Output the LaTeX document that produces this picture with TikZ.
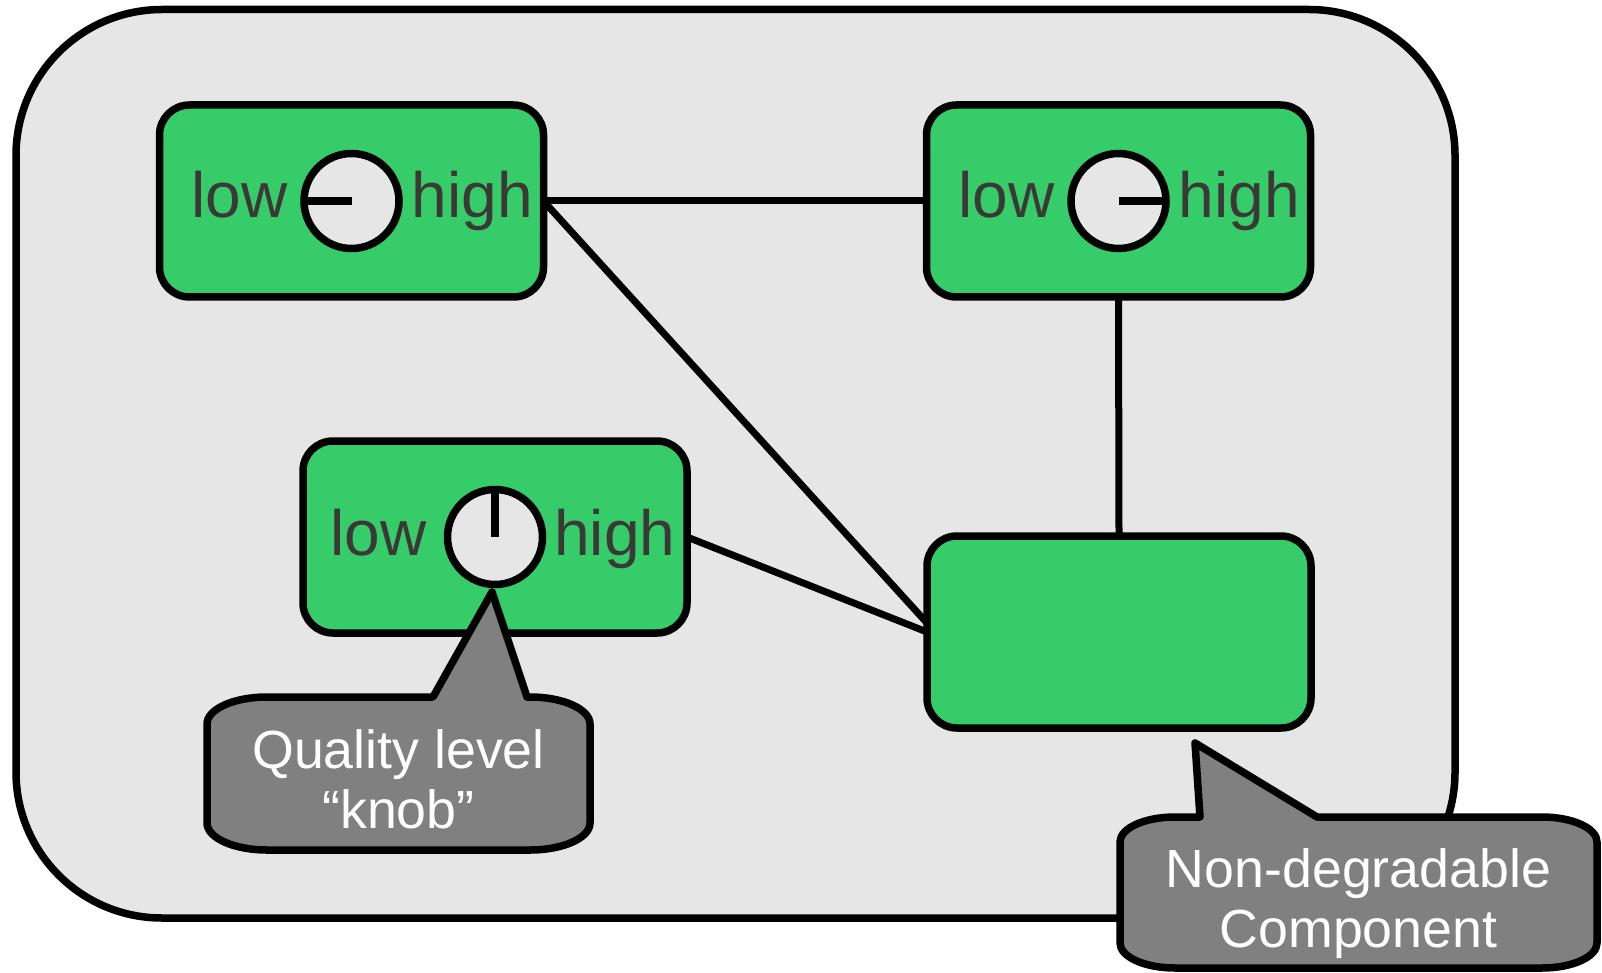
\documentclass[tikz,border=0pt]{standalone}
\usepackage{fontspec}
\setmainfont{Liberation Sans}
\definecolor{bgc}{RGB}{230,230,230}
\definecolor{greenc}{RGB}{54,204,106}
\definecolor{calloutc}{RGB}{128,128,128}
\definecolor{txtc}{RGB}{59,56,53}
\pgfdeclarelayer{back}
\pgfdeclarelayer{mid}
\pgfsetlayers{back,mid,main}
\begin{document}
\begin{tikzpicture}[x=1pt,y=-1pt,
  comp/.style={draw=black, line width=7.5pt, fill=greenc, rounded corners=30pt,
    minimum width=384pt, minimum height=192pt, inner sep=0pt, outer sep=0pt},
  knob/.style={circle, draw=black, line width=7.5pt, fill=bgc, minimum size=95pt,
    inner sep=0pt, outer sep=0pt},
  pointer/.style={line width=7.5pt},
  lbl/.style={inner sep=0pt, text=txtc, font=\fontsize{64}{76}\selectfont},
  conn/.style={line width=7pt},
  callout/.style={draw=black, line width=7.5pt, fill=calloutc, line join=round},
  ctext/.style={text=white, font=\fontsize{53.7}{60}\selectfont, align=center, inner sep=0pt}]
\useasboundingbox (0,0) rectangle (1602,973);
% container
\begin{pgfonlayer}{back}
\draw[line width=7.5pt, fill=bgc, rounded corners=146pt] (16,9.5) rectangle (1455,918);
\end{pgfonlayer}
% components
\node[comp] (c1) at (351.5,201) {};
\node[comp] (c2) at (1118.5,201) {};
\node[comp] (c3) at (495,537) {};
\node[comp] (c4) at (1119,632) {};
% knobs
\node[knob] (k1) at (c1.center) {};
\node[knob] (k2) at (c2.center) {};
\node[knob] (k3) at (c3.center) {};
\draw[pointer] (k1.center) -- (k1.west);
\draw[pointer] (k2.center) -- (k2.east);
\draw[pointer] (k3.center) -- (k3.north);
% labels
\node[lbl, anchor=base east] (l1) at ([shift={(-64,17)}]k1.center) {low};
\node[lbl, anchor=base west] (h1) at ([shift={(60,17)}]k1.center) {high};
\node[lbl, anchor=base east] (l2) at ([shift={(-64,17)}]k2.center) {low};
\node[lbl, anchor=base west] (h2) at ([shift={(60,17)}]k2.center) {high};
\node[lbl, anchor=base east] (l3) at ([shift={(-68,18)}]k3.center) {low};
\node[lbl, anchor=base west] (h3) at ([shift={(59,18)}]k3.center) {high};
% connectors
\begin{pgfonlayer}{mid}
\draw[conn] (c1.east) -- (c2.west);
\draw[conn] (c1.east) -- ([yshift=9pt]c4.west);
\draw[conn] (c3.east) -- (c4.west);
\draw[conn] (c2.south) -- (c4.north);
\end{pgfonlayer}
% callout 1
\draw[callout] (433,697) -- (492,592) -- (527,697) -- (530,697)
  .. controls (563.1,697) and (590,709.1) .. (590,724) -- (590,823)
  .. controls (590,837.9) and (563.1,850) .. (530,850) -- (267,850)
  .. controls (233.9,850) and (207,837.9) .. (207,823) -- (207,724)
  .. controls (207,709.1) and (233.9,697) .. (267,697) -- cycle;
\node[ctext, anchor=base] (t1) at (398.5,828) {Quality level\\“knob”};
% callout 2
\draw[callout] (1200,817) -- (1195,743) -- (1317,817) -- (1542,817)
  .. controls (1572.4,817) and (1597,828.2) .. (1597,842) -- (1597,943)
  .. controls (1597,956.8) and (1572.4,968) .. (1542,968) -- (1175,968)
  .. controls (1144.6,968) and (1120,956.8) .. (1120,943) -- (1120,842)
  .. controls (1120,828.2) and (1144.6,817) .. (1175,817) -- cycle;
\node[ctext, anchor=base] (t2) at (1358.5,947) {Non-degradable\\Component};
\end{tikzpicture}
\end{document}
